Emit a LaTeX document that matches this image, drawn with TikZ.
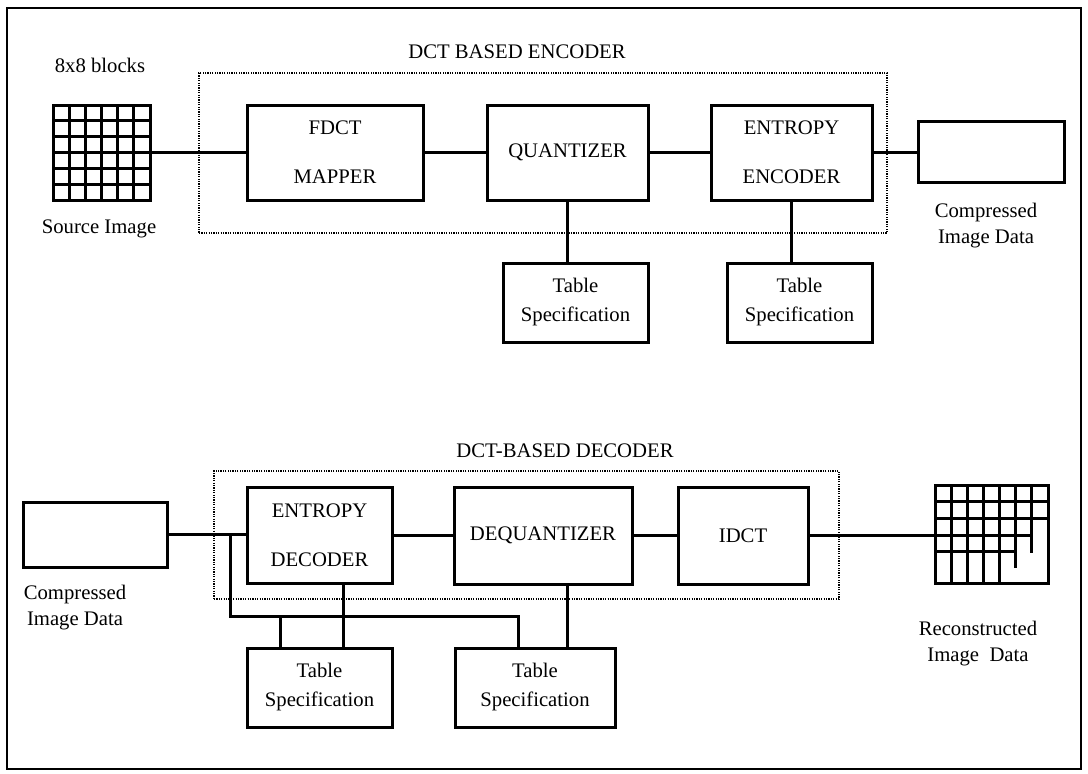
\documentclass[tikz,border=0pt]{standalone}
\usepackage{fontspec}
\setmainfont{Liberation Serif}
\begin{document}
\begin{tikzpicture}[x=1pt,y=-1pt,
  blk/.style={draw, line width=3pt, fill=white, inner sep=0pt, align=center, font=\fontsize{20.7}{49}\selectfont},
  tsbox/.style={blk, font=\fontsize{20.7}{29}\selectfont},
  lbl/.style={inner sep=0pt, align=center, font=\fontsize{20.7}{26}\selectfont},
  conn/.style={line width=3pt},
  dotbox/.style={draw, line width=2pt, dash pattern=on 1.2pt off 1.2pt, inner sep=0pt},
  gridln/.style={line width=3pt},
]
\useasboundingbox (0,0) rectangle (1088,774);
\draw[line width=2.4pt] (7,8) rectangle (1081,769);

% ---------------- encoder ----------------
\node[dotbox, minimum width=688pt, minimum height=160pt] (encbox) at (543,153) {};
\node[lbl, anchor=base] (enctitle) at (517,58) {DCT BASED ENCODER};
\node[lbl, anchor=base] (blocks) at (100,72) {8x8 blocks};
\node[lbl, anchor=base] (srclbl) at (99,233) {Source Image};

\node[draw, gridln, fill=white, minimum width=97pt, minimum height=95pt, inner sep=0pt] (src) at (101.5,152.5) {};
\foreach \i in {1,...,5} {
  \draw[gridln] ({53+\i*97/6},105) -- ({53+\i*97/6},200);
  \draw[gridln] (53,{105+\i*95/6}) -- (150,{105+\i*95/6});
}

\node[blk, minimum width=176pt, minimum height=95pt] (fdct) at (335,152.5) {FDCT\\MAPPER};
\node[blk, minimum width=161pt, minimum height=95pt] (quant) at (567.5,152.5) {QUANTIZER};
\node[blk, minimum width=161pt, minimum height=95pt] (entenc) at (791.5,152.5) {ENTROPY\\ENCODER};
\node[blk, minimum width=146pt, minimum height=61pt] (compA) at (991,151.5) {};
\node[lbl] (compAlbl) at (986,226) {Compressed\\Image Data};
\node[tsbox, minimum width=145pt, minimum height=79pt] (tsQ) at (575.5,302.5) {Table\\Specification};
\node[tsbox, minimum width=145pt, minimum height=79pt] (tsE) at (799.5,302.5) {Table\\Specification};

\draw[conn] (src.east) -- (fdct.west);
\draw[conn] (fdct.east) -- (quant.west);
\draw[conn] (quant.east) -- (entenc.west);
\draw[conn] (entenc.east) -- (entenc.east -| compA.west);
\draw[conn] (quant.south) -- (quant.south |- tsQ.north);
\draw[conn] (entenc.south) -- (entenc.south |- tsE.north);

% ---------------- decoder ----------------
\node[dotbox, minimum width=625pt, minimum height=128pt] (decbox) at (526.5,535) {};
\node[lbl, anchor=base] (dectitle) at (565,457) {DCT-BASED DECODER};

\node[blk, minimum width=144pt, minimum height=65pt] (compB) at (95,534.5) {};
\node[lbl] (compBlbl) at (75,608) {Compressed\\Image Data};
\node[blk, minimum width=145pt, minimum height=96pt] (entdec) at (319.5,535) {ENTROPY\\DECODER};
\node[blk, minimum width=178pt, minimum height=97pt] (dequant) at (543,535.5) {DEQUANTIZER};
\node[blk, minimum width=130pt, minimum height=97pt] (idct) at (743,535.5) {IDCT};
\node[tsbox, minimum width=145pt, minimum height=79pt] (tsL) at (319.5,687.5) {Table\\Specification};
\node[tsbox, minimum width=160pt, minimum height=79pt] (tsR) at (535,687.5) {Table\\Specification};

\node[draw, gridln, fill=white, minimum width=113pt, minimum height=98pt, inner sep=0pt] (rc) at (991.5,534) {};
\foreach \i in {1,...,4} \draw[gridln] ({935+\i*113/7},485) -- ({935+\i*113/7},583);
\draw[gridln] ({935+5*113/7},485) -- ({935+5*113/7},568);
\draw[gridln] ({935+6*113/7},485) -- ({935+6*113/7},553);
\draw[gridln] (935,501.7) -- (1048,501.7);
\draw[gridln] (935,518.3) -- (1048,518.3);
\draw[gridln] (935,535) -- ({935+6*113/7},535);
\draw[gridln] (935,551.7) -- ({935+5*113/7},551.7);
\node[lbl] (rclbl) at (978,644) {Reconstructed\\Image\ \ Data};

\coordinate (j1) at (230,535);
\coordinate (jb) at (230,616);
\coordinate (jr) at (518,616);
\coordinate (xL) at (280,616);
\coordinate (xM) at (343,616);
\coordinate (xD) at (567,616);

\draw[conn] (compB.east) -- (compB.east -| entdec.west);
\draw[conn] (compB.east -| j1) -- (jb) -- (jr) -- (jr |- tsR.north);
\draw[conn] (xL) -- (xL |- tsL.north);
\draw[conn] (entdec.south -| xM) -- (xM |- tsL.north);
\draw[conn] (dequant.south -| xD) -- (xD |- tsR.north);
\draw[conn] (entdec.east) -- (entdec.east -| dequant.west);
\draw[conn] (dequant.east) -- (idct.west);
\draw[conn] (idct.east) -- (idct.east -| rc.west);
\end{tikzpicture}
\end{document}
